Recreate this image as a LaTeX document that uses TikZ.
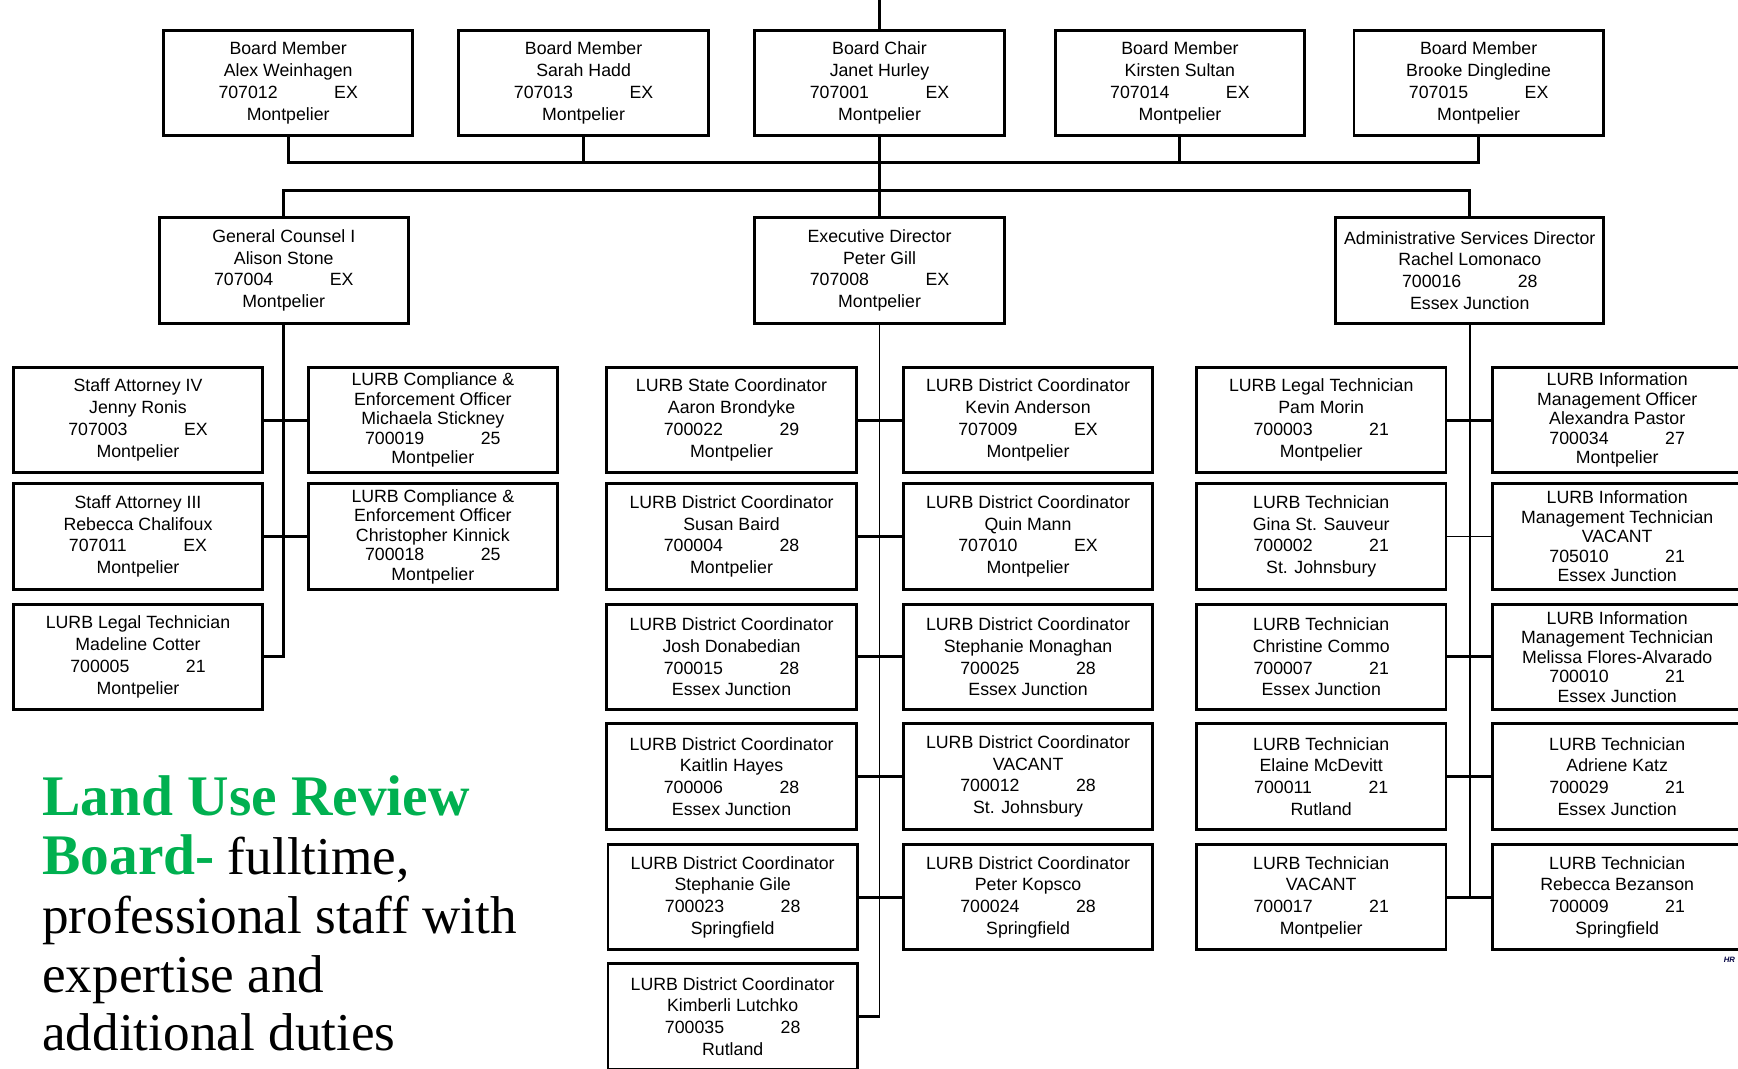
\documentclass[tikz,border=0pt]{standalone}
\usepackage{fontspec}
\setmainfont{Liberation Serif}
\newfontfamily\boxfont{Liberation Sans}
\definecolor{lurbgreen}{RGB}{0,176,80}
\newcommand{\idline}[2]{#1\hspace{51pt}#2}

\begin{document}
\begin{tikzpicture}[x=1pt,y=-1pt,
  box/.style={draw,line width=2.6pt,minimum width=225pt,minimum height=95pt,inner sep=0pt,align=center,
    font=\boxfont\fontsize{16}{19.7}\selectfont},
  tightbox/.style={box,font=\boxfont\fontsize{16}{17.6}\selectfont},
  link/.style={line width=2.6pt},
  thinlink/.style={line width=1.7pt}]
  \useasboundingbox (0,0) rectangle (1568,964);

  % board
  \node[box] (alex) at (260,75) {Board Member\\Alex Weinhagen\\\idline{707012}{EX}\\Montpelier};
  \node[box] (sarah) at (526.5,75) {Board Member\\Sarah Hadd\\\idline{707013}{EX}\\Montpelier};
  \node[box] (chair) at (793.5,75) {Board Chair\\Janet Hurley\\\idline{707001}{EX}\\Montpelier};
  \node[box] (kirsten) at (1064.5,75) {Board Member\\Kirsten Sultan\\\idline{707014}{EX}\\Montpelier};
  \node[box] (brooke) at (1334,75) {Board Member\\Brooke Dingledine\\\idline{707015}{EX}\\Montpelier};

  \coordinate (top) at (chair.north |- 0,0);
  \coordinate (bus1) at (0,147);
  \coordinate (bus2) at (0,172);
  \draw[link] (top) -- (chair.north);
  \draw[link] (alex.south) -- (alex.south |- bus1) -| (brooke.south);
  \draw[link] (sarah.south) -- (sarah.south |- bus1);
  \draw[link] (kirsten.south) -- (kirsten.south |- bus1);

  % directors
  \node[box] (gc) at (256,244) {General Counsel I\\Alison Stone\\\idline{707004}{EX}\\Montpelier};
  \node[box] (exec) at (793.5,244) {Executive Director\\Peter Gill\\\idline{707008}{EX}\\Montpelier};
  \node[box,minimum width=242pt] (admin) at (1326,244) {Administrative Services Director\\Rachel Lomonaco\\\idline{700016}{28}\\Essex Junction};

  \draw[link] (chair.south) -- (exec.north);
  \draw[link] (gc.north) |- (admin.north |- bus2) -- (admin.north);

  % counsel staff
  \node[box] (sa4) at (124.5,379) {Staff Attorney IV\\Jenny Ronis\\\idline{707003}{EX}\\Montpelier};
  \node[box] (sa3) at (124.5,484) {Staff Attorney III\\Rebecca Chalifoux\\\idline{707011}{EX}\\Montpelier};
  \node[box] (lt1) at (124.5,592.5) {LURB Legal Technician\\Madeline Cotter\\\idline{700005}{21}\\Montpelier};
  \node[tightbox] (ceo1) at (390.5,379) {LURB Compliance \&\\Enforcement Officer\\Michaela Stickney\\\idline{700019}{25}\\Montpelier};
  \node[tightbox] (ceo2) at (390.5,484) {LURB Compliance \&\\Enforcement Officer\\Christopher Kinnick\\\idline{700018}{25}\\Montpelier};

  \draw[link] (gc.south) -- (gc.south |- lt1.east) -- (lt1.east);
  \draw[link] (sa4.east) -- (ceo1.west);
  \draw[link] (sa3.east) -- (ceo2.west);

  % coordinators
  \node[box] (sc) at (660,379) {LURB State Coordinator\\Aaron Brondyke\\\idline{700022}{29}\\Montpelier};
  \node[box] (dc1) at (927.5,379) {LURB District Coordinator\\Kevin Anderson\\\idline{707009}{EX}\\Montpelier};
  \node[box] (dc2) at (660,484) {LURB District Coordinator\\Susan Baird\\\idline{700004}{28}\\Montpelier};
  \node[box] (dc3) at (927.5,484) {LURB District Coordinator\\Quin Mann\\\idline{707010}{EX}\\Montpelier};
  \node[box] (dc4) at (660,592.5) {LURB District Coordinator\\Josh Donabedian\\\idline{700015}{28}\\Essex Junction};
  \node[box] (dc5) at (927.5,592.5) {LURB District Coordinator\\Stephanie Monaghan\\\idline{700025}{28}\\Essex Junction};
  \node[box] (dc6) at (660,700.5) {LURB District Coordinator\\Kaitlin Hayes\\\idline{700006}{28}\\Essex Junction};
  \node[box] (dc7) at (927.5,700.5) {LURB District Coordinator\\VACANT\\\idline{700012}{28}\\St. Johnsbury};
  \node[box] (dc8) at (661,809.5) {LURB District Coordinator\\Stephanie Gile\\\idline{700023}{28}\\Springfield};
  \node[box] (dc9) at (927.5,809.5) {LURB District Coordinator\\Peter Kopsco\\\idline{700024}{28}\\Springfield};
  \node[box] (dc10) at (661,917) {LURB District Coordinator\\Kimberli Lutchko\\\idline{700035}{28}\\Rutland};

  \draw[thinlink] (exec.south) -- (exec.south |- dc10.east);
  \draw[link] (dc10.east) -- (exec.south |- dc10.east);
  \draw[link] (sc.east) -- (dc1.west);
  \draw[link] (dc2.east) -- (dc3.west);
  \draw[link] (dc4.east) -- (dc5.west);
  \draw[link] (dc6.east) -- (dc7.west);
  \draw[link] (dc8.east) -- (dc9.west);

  % technicians
  \node[box] (lt2) at (1192,379) {LURB Legal Technician\\Pam Morin\\\idline{700003}{21}\\Montpelier};
  \node[tightbox] (imo) at (1459,379) {LURB Information\\Management Officer\\Alexandra Pastor\\\idline{700034}{27}\\Montpelier};
  \node[box] (tech1) at (1192,484) {LURB Technician\\Gina St. Sauveur\\\idline{700002}{21}\\St. Johnsbury};
  \node[tightbox] (imt1) at (1459,484) {LURB Information\\Management Technician\\VACANT\\\idline{705010}{21}\\Essex Junction};
  \node[box] (tech2) at (1192,592.5) {LURB Technician\\Christine Commo\\\idline{700007}{21}\\Essex Junction};
  \node[tightbox] (imt2) at (1459,592.5) {LURB Information\\Management Technician\\Melissa Flores-Alvarado\\\idline{700010}{21}\\Essex Junction};
  \node[box] (tech3) at (1192,700.5) {LURB Technician\\Elaine McDevitt\\\idline{700011}{21}\\Rutland};
  \node[box] (tech4) at (1459,700.5) {LURB Technician\\Adriene Katz\\\idline{700029}{21}\\Essex Junction};
  \node[box] (tech5) at (1192,809.5) {LURB Technician\\VACANT\\\idline{700017}{21}\\Montpelier};
  \node[box] (tech6) at (1459,809.5) {LURB Technician\\Rebecca Bezanson\\\idline{700009}{21}\\Springfield};

  \draw[thinlink] (admin.south) -- (admin.south |- tech5.east);
  \draw[link] (lt2.east) -- (imo.west);
  \draw[thinlink] (tech1.east) -- (imt1.west);
  \draw[link] (tech2.east) -- (imt2.west);
  \draw[link] (tech3.east) -- (tech4.west);
  \draw[link] (tech5.east) -- (tech6.west);

  \node[anchor=west,inner sep=0pt,text=black!75!blue,font=\boxfont\bfseries\itshape\fontsize{7}{8}\selectfont] (hr) at (1555,866) {HR};

  % caption
  \node[anchor=north west,inner sep=0pt,align=left,font=\fontsize{48}{53}\selectfont] (title) at (38,700)
    {{\color{lurbgreen}\fontsize{51.8}{53}\selectfont\bfseries Land Use Review}\\{\color{lurbgreen}\fontsize{51.8}{53}\selectfont\bfseries Board-} fulltime,\\professional staff with\\expertise and\\additional duties};
\end{tikzpicture}
\end{document}
